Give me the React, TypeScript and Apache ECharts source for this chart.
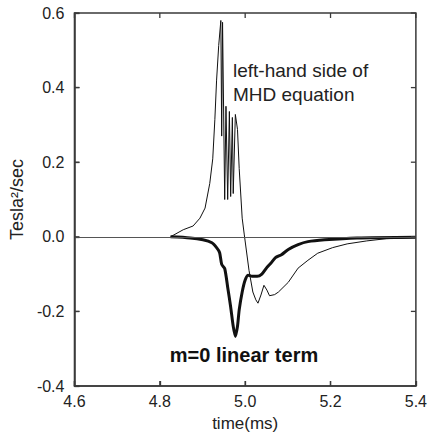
import React, { useEffect, useRef } from "react";
import * as echarts from "echarts";

// time (ms) and value (Tesla^2/sec) for the left-hand side of the MHD equation (thin line)
const lhsTime = [
  4.825, 4.855, 4.878, 4.894, 4.906, 4.917, 4.924, 4.929, 4.933, 4.938, 4.943,
  4.945, 4.947, 4.952, 4.955, 4.959, 4.963, 4.966, 4.970, 4.972, 4.977, 4.982,
  4.986, 4.993, 4.998, 5.009, 5.018, 5.025, 5.030, 5.037, 5.044, 5.051, 5.057,
  5.069, 5.078, 5.101, 5.124, 5.147, 5.170, 5.205, 5.239, 5.285, 5.331, 5.400,
];
const lhsValue = [
  0.0, 0.019, 0.029, 0.05, 0.077, 0.143, 0.209, 0.315, 0.42, 0.513, 0.58,
  0.27, 0.575, 0.10, 0.35, 0.10, 0.336, 0.108, 0.32, 0.116, 0.328, 0.288,
  0.183, 0.05, 0.005, -0.09, -0.148, -0.169, -0.178, -0.156, -0.13, -0.143, -0.158,
  -0.155, -0.148, -0.122, -0.084, -0.063, -0.044, -0.029, -0.019, -0.011, -0.005, -0.002,
];

// m=0 linear term (thick line)
const linTime = [
  4.825, 4.871, 4.901, 4.922, 4.933, 4.940, 4.945, 4.952, 4.959, 4.966, 4.972,
  4.977, 4.982, 4.986, 4.993, 5.000, 5.007, 5.016, 5.028, 5.039, 5.051, 5.060,
  5.071, 5.085, 5.101, 5.124, 5.147, 5.186, 5.262, 5.400,
];
const linValue = [
  0.0, -0.003, -0.008, -0.016, -0.029, -0.042, -0.074, -0.085, -0.135, -0.188, -0.24,
  -0.267, -0.24, -0.196, -0.148, -0.116, -0.103, -0.106, -0.106, -0.1, -0.082, -0.071,
  -0.056, -0.048, -0.034, -0.021, -0.013, -0.008, -0.003, -0.001,
];

const xMin = 4.6;
const xMax = 5.4;
const yMin = -0.4;
const yMax = 0.6;
const tickStep = 0.2;
const xTickValues = [4.6, 4.8, 5.0, 5.2, 5.4];
const yTickValues = [-0.4, -0.2, 0.0, 0.2, 0.4, 0.6];

const annotationTop = ["left-hand side of", "MHD equation"];
const annotationBottom = "m=0 linear term";
const xName = "time(ms)";
const yName = "Tesla²/sec";

const FONT = "'Liberation Sans', Arial, Helvetica, sans-serif";
const AXIS_COLOR = "#3a3a3a";
const TEXT_COLOR = "#222222";

export default function App() {
  const ref = useRef<HTMLDivElement>(null);

  useEffect(() => {
    if (!ref.current) return;
    document.body.style.margin = "0";
    const chart = echarts.init(ref.current, undefined, { renderer: "svg" });

    const fmt = (v: number) => v.toFixed(1);
    const frameStyle = { stroke: AXIS_COLOR, lineWidth: 1.5, fill: "none" };
    const tickLen = 5;

    chart.setOption({
      animation: false,
      backgroundColor: "#ffffff",
      textStyle: { fontFamily: FONT },
      grid: { left: 73, right: 9, top: 13, bottom: 49 },
      xAxis: {
        type: "value",
        min: xMin,
        max: xMax,
        interval: tickStep,
        position: "bottom",
        axisLine: { show: true, onZero: false, lineStyle: { color: AXIS_COLOR, width: 1.5 } },
        axisTick: { show: true, inside: true, length: tickLen, lineStyle: { color: AXIS_COLOR, width: 1.3 } },
        splitLine: { show: false },
        axisLabel: { formatter: fmt, color: TEXT_COLOR, fontSize: 16, margin: 7, fontFamily: FONT },
        name: xName,
        nameLocation: "middle",
        nameGap: 29,
        nameTextStyle: { color: TEXT_COLOR, fontSize: 17, fontFamily: FONT },
      },
      yAxis: {
        type: "value",
        min: yMin,
        max: yMax,
        interval: tickStep,
        position: "left",
        axisLine: { show: true, onZero: false, lineStyle: { color: AXIS_COLOR, width: 1.5 } },
        axisTick: { show: true, inside: true, length: tickLen, lineStyle: { color: AXIS_COLOR, width: 1.3 } },
        splitLine: { show: false },
        axisLabel: { formatter: fmt, color: TEXT_COLOR, fontSize: 16, margin: 10, fontFamily: FONT },
        name: yName,
        nameLocation: "middle",
        nameGap: 45,
        nameRotate: 90,
        nameTextStyle: { color: TEXT_COLOR, fontSize: 18, fontFamily: FONT },
      },
      series: [
        {
          type: "line",
          name: "lhs",
          data: lhsTime.map((t, i) => [t, lhsValue[i]]),
          symbol: "none",
          lineStyle: { color: "#111", width: 1 },
          z: 3,
          markLine: {
            silent: true,
            symbol: "none",
            label: { show: false },
            lineStyle: { color: "#555", width: 1, type: "solid" },
            data: [{ yAxis: 0 }],
          },
        },
        {
          type: "line",
          name: "m0",
          data: linTime.map((t, i) => [t, linValue[i]]),
          symbol: "none",
          smooth: 0.25,
          lineStyle: { color: "#111", width: 3 },
          z: 4,
        },
        {
          // plot frame, drawn from the grid's own rectangle
          type: "custom",
          name: "frame",
          silent: true,
          clip: false,
          z: 10,
          data: [[xMin, yMin]],
          renderItem: (params: any, api: any) => {
            const a = api.coord([xMin, yMax]);
            const b = api.coord([xMax, yMin]);
            return {
              type: "rect",
              shape: { x: a[0], y: a[1], width: b[0] - a[0], height: b[1] - a[1] },
              style: frameStyle,
            };
          },
        },
        {
          // inward ticks on bottom and top edges
          type: "custom",
          name: "xticks",
          silent: true,
          clip: false,
          z: 10,
          data: xTickValues.map((v) => [v, yMin]),
          renderItem: (params: any, api: any) => {
            const v = api.value(0);
            const bot = api.coord([v, yMin]);
            const top = api.coord([v, yMax]);
            return {
              type: "group",
              children: [
                { type: "line", shape: { x1: bot[0], y1: bot[1], x2: bot[0], y2: bot[1] - tickLen }, style: { stroke: AXIS_COLOR, lineWidth: 1.3 } },
                { type: "line", shape: { x1: top[0], y1: top[1], x2: top[0], y2: top[1] + tickLen }, style: { stroke: AXIS_COLOR, lineWidth: 1.3 } },
              ],
            };
          },
        },
        {
          // inward ticks on left and right edges
          type: "custom",
          name: "yticks",
          silent: true,
          clip: false,
          z: 10,
          data: yTickValues.map((v) => [xMin, v]),
          renderItem: (params: any, api: any) => {
            const v = api.value(1);
            const l = api.coord([xMin, v]);
            const r = api.coord([xMax, v]);
            return {
              type: "group",
              children: [
                { type: "line", shape: { x1: l[0], y1: l[1], x2: l[0] + tickLen, y2: l[1] }, style: { stroke: AXIS_COLOR, lineWidth: 1.3 } },
                { type: "line", shape: { x1: r[0], y1: r[1], x2: r[0] - tickLen, y2: r[1] }, style: { stroke: AXIS_COLOR, lineWidth: 1.3 } },
              ],
            };
          },
        },
      ],
      graphic: [
        {
          type: "text",
          x: 233,
          y: 70,
          style: {
            text: annotationTop[0],
            font: `19px ${FONT}`,
            fill: TEXT_COLOR,
            align: "left",
            verticalAlign: "middle",
          },
        },
        {
          type: "text",
          x: 233,
          y: 94,
          style: {
            text: annotationTop[1],
            font: `19px ${FONT}`,
            fill: TEXT_COLOR,
            align: "left",
            verticalAlign: "middle",
          },
        },
        {
          type: "text",
          x: 244,
          y: 355,
          style: {
            text: annotationBottom,
            font: `bold 20px ${FONT}`,
            fill: "#111",
            align: "center",
            verticalAlign: "middle",
          },
        },
      ],
    });

    return () => chart.dispose();
  }, []);

  return <div ref={ref} style={{ width: 430, height: 437 }} />;
}
